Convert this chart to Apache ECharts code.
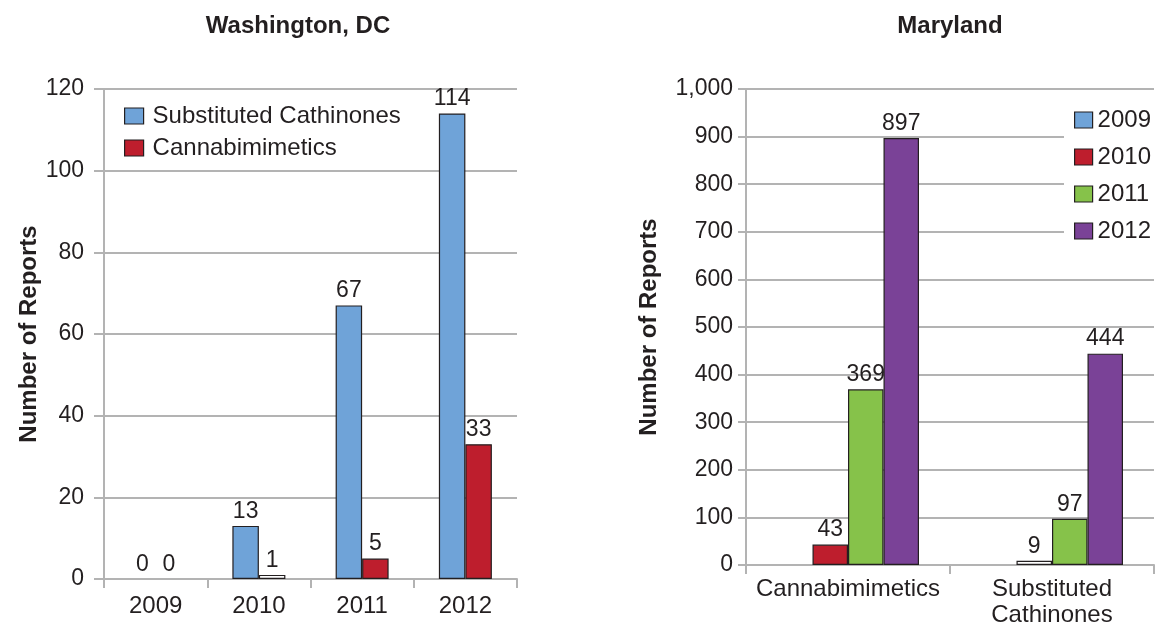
<!DOCTYPE html>
<html><head><meta charset="utf-8">
<script src="https://cdn.jsdelivr.net/npm/echarts@6/dist/echarts.min.js"></script>
<style>html,body{margin:0;padding:0;background:#fff}#c{width:1155px;height:628px}</style>
</head><body><div id="c"></div>
<script>
// Washington, DC
const dcYears = ['2009','2010','2011','2012'];
const dcCathinones = [0, 13, 67, 114];
const dcCannabi = [0, 1, 5, 33];
// Maryland
const mdCategories = ['Cannabimimetics','Substituted\nCathinones'];
const md2009 = [0, 0];
const md2010 = [43, 9];
const md2011 = [369, 97];
const md2012 = [897, 444];

const FONT = 'Liberation Sans, Arial, sans-serif';
const TXT = '#231f20';
const GRID = '#b3b3b3';
const FS = 23;
const FL = 24;
const C = {blue:'#6fa3d8', red:'#be1e2d', green:'#86c24a', purple:'#7a4297'};

function mkData(arr, color, max){
  return arr.map(v => ({value: v, itemStyle: {
    color: (v > 0 && v / max < 0.02) ? '#ffffff' : color,
    borderWidth: v === 0 ? 0 : 1.2}}));
}
function bar(name, arr, color, xi, max, width, hideZero){
  return {
    name, type:'bar', xAxisIndex:xi, yAxisIndex:xi, barWidth:width, barGap:'0%',
    data: mkData(arr, color, max),
    itemStyle:{color, borderColor:'#231f20', borderWidth:1.2},
    label:{show:true, position:'top', distance:3, color:TXT, fontSize:FS, fontFamily:FONT,
      formatter: p => (hideZero && p.value === 0) ? '' : String(p.value)},
    emphasis:{disabled:true}
  };
}

const chart = echarts.init(document.getElementById('c'), null, {renderer:'canvas'});
const yCommon = {
  type:'value',
  axisLine:{show:true, lineStyle:{color:GRID, width:2}},
  axisTick:{show:true, length:10, lineStyle:{color:GRID, width:2}},
  splitLine:{lineStyle:{color:GRID, width:2}},
  axisLabel:{color:TXT, fontSize:FS, fontFamily:FONT},
  nameLocation:'middle',
  nameTextStyle:{color:TXT, fontSize:24, fontWeight:'bold', fontFamily:FONT}
};
const xCommon = {
  type:'category',
  axisLine:{show:true, lineStyle:{color:GRID, width:2}},
  axisTick:{show:true, length:9, interval:0, lineStyle:{color:GRID, width:2}},
  axisLabel:{color:TXT, fontSize:FL, fontFamily:FONT, lineHeight:26, interval:0, hideOverlap:false}
};
const legendText = {color:TXT, fontSize:FL, fontFamily:FONT, padding:[0,0,0,4]};

chart.setOption({
  animation:false,
  backgroundColor:'#fff',
  title:[
    {text:'Washington, DC', left:293, top:9, textAlign:'center',
      textStyle:{fontSize:24, fontWeight:'bold', color:TXT, fontFamily:FONT}},
    {text:'Maryland', left:945, top:9, textAlign:'center',
      textStyle:{fontSize:24, fontWeight:'bold', color:TXT, fontFamily:FONT}}
  ],
  grid:[
    {left:104, right:638, top:89, bottom:49},
    {left:746, right:1, top:89, bottom:61}
  ],
  legend:[
    {data:['Substituted Cathinones','Cannabimimetics'], orient:'vertical', left:119, top:99,
      icon:'rect', itemWidth:19, itemHeight:16, itemGap:8, selectedMode:false,
      itemStyle:{borderColor:'#231f20', borderWidth:1.2},
      textStyle:legendText},
    {data:['2009','2010','2011','2012'], orient:'vertical', left:1064, top:104,
      icon:'rect', itemWidth:18, itemHeight:16, itemGap:13, selectedMode:false, backgroundColor:'#fff',
      itemStyle:{borderColor:'#231f20', borderWidth:1.2},
      padding:[4,6,4,10],
      textStyle:Object.assign({}, legendText, {padding:[0,0,0,0]})}
  ],
  xAxis:[
    Object.assign({}, xCommon, {gridIndex:0, data:dcYears, axisLabel:Object.assign({}, xCommon.axisLabel, {margin:14})}),
    Object.assign({}, xCommon, {gridIndex:1, data:mdCategories, axisLabel:Object.assign({}, xCommon.axisLabel, {margin:11})})
  ],
  yAxis:[
    Object.assign({}, yCommon, {gridIndex:0, min:0, max:120, interval:20, name:'Number of Reports', nameGap:63,
      axisLabel:Object.assign({}, yCommon.axisLabel, {margin:20})}),
    Object.assign({}, yCommon, {gridIndex:1, min:0, max:1000, interval:100, name:'Number of Reports', nameGap:85,
      axisTick:{show:true, length:8, lineStyle:{color:GRID, width:2}},
      axisLabel:Object.assign({}, yCommon.axisLabel, {margin:13,
        formatter: v => v.toLocaleString('en-US')})})
  ],
  series:[
    bar('Substituted Cathinones', dcCathinones, C.blue, 0, 120, 26.5, false),
    bar('Cannabimimetics', dcCannabi, C.red, 0, 120, 26.5, false),
    bar('2009', md2009, C.blue, 1, 1000, 35.5, true),
    bar('2010', md2010, C.red, 1, 1000, 35.5, true),
    bar('2011', md2011, C.green, 1, 1000, 35.5, true),
    bar('2012', md2012, C.purple, 1, 1000, 35.5, true)
  ]
});
</script></body></html>
